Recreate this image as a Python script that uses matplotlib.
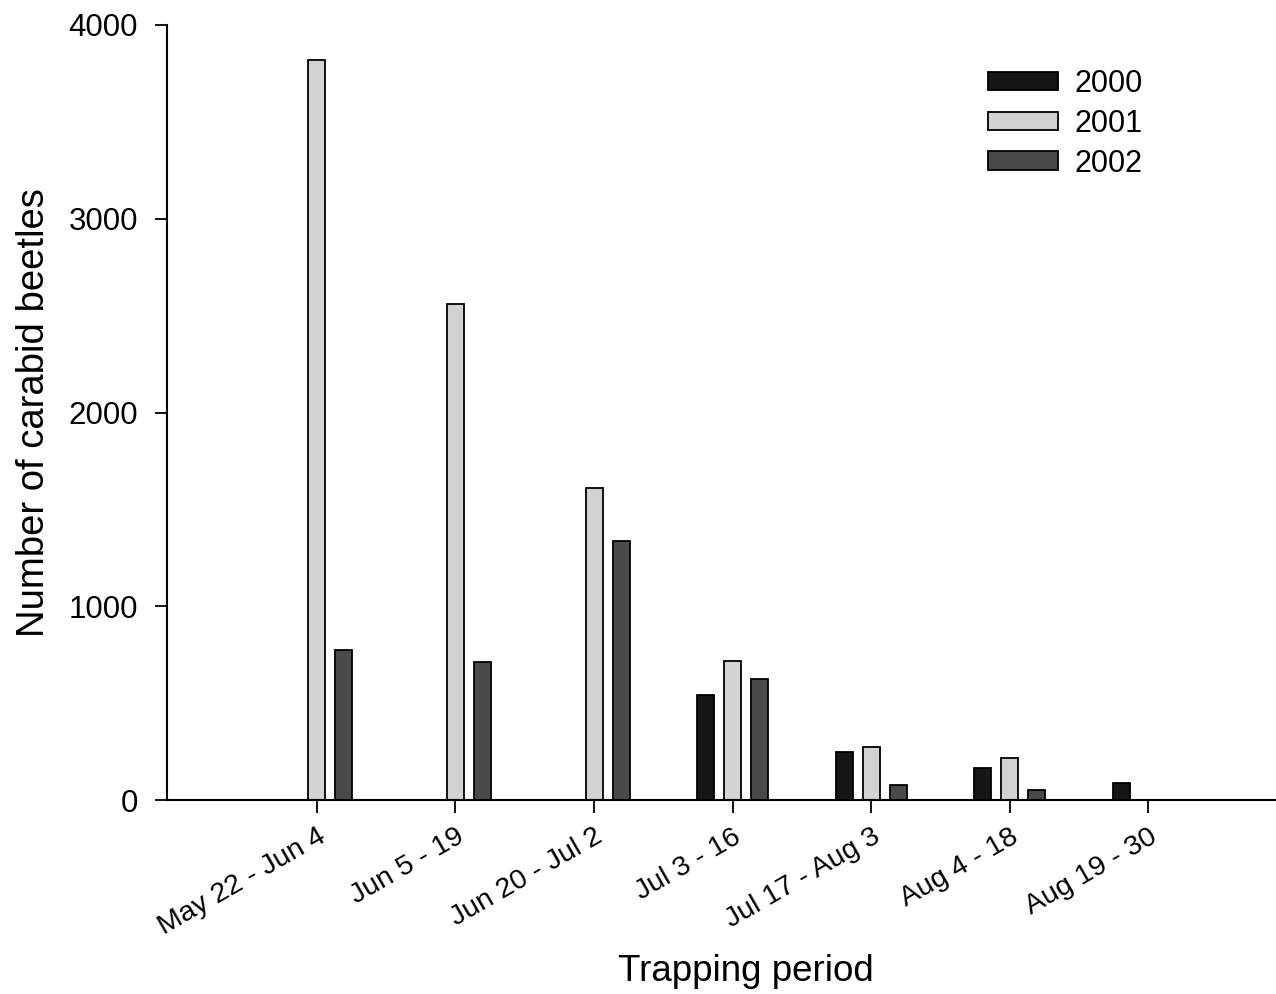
import numpy as np
import matplotlib
matplotlib.use('Agg')
import matplotlib.pyplot as plt

plt.rcParams['font.family'] = ['Liberation Sans', 'DejaVu Sans']

periods = ['May 22 - Jun 4', 'Jun 5 - 19', 'Jun 20 - Jul 2', 'Jul 3 - 16',
           'Jul 17 - Aug 3', 'Aug 4 - 18', 'Aug 19 - 30']
years = ['2000', '2001', '2002']
counts_2000 = [0, 0, 0, 541, 250, 165, 88]
counts_2001 = [3820, 2562, 1613, 716, 273, 215, 0]
counts_2002 = [773, 711, 1335, 624, 79, 52, 0]

COLORS = ['#161616', '#d2d2d2', '#4a4a4a']
BAR_W = 0.123
OFFSET = 0.195

fig = plt.figure(figsize=(12.76, 9.94), dpi=100)
ax = fig.add_axes([0.131, 0.195, 0.869, 0.78])

x = np.arange(len(periods))
for k, (yr, vals, col) in enumerate(zip(years, [counts_2000, counts_2001, counts_2002], COLORS)):
    ax.bar(x + (k - 1) * OFFSET, vals, width=BAR_W, color=col,
           edgecolor='black', linewidth=1.3, label=yr)

ax.set_xlim(-1.08, 6.92)
ax.set_ylim(0, 4000)
ax.set_yticks([0, 1000, 2000, 3000, 4000])
ax.set_xticks(x)
ax.set_xticklabels(periods, rotation=30, ha='right', rotation_mode='anchor', fontsize=20.5)
ax.tick_params(axis='y', labelsize=22.5, length=9, width=1.3, direction='out', pad=12)
ax.tick_params(axis='x', length=9, width=1.3, direction='out', pad=8)

for s in ['top', 'right']:
    ax.spines[s].set_visible(False)
for s in ['left', 'bottom']:
    ax.spines[s].set_linewidth(1.5)

ax.set_ylabel('Number of carabid beetles', fontsize=27.5, labelpad=12)
ax.set_xlabel('Trapping period', fontsize=26.5)
ax.xaxis.set_label_coords(0.522, -0.198)

leg = ax.legend(loc='upper left', bbox_to_anchor=(0.762, 0.946),
                bbox_transform=fig.transFigure, frameon=False, fontsize=22,
                handlelength=2.3, handleheight=0.55, labelspacing=0.32,
                handletextpad=0.55, borderpad=0)

fig.savefig('out.png', dpi=100, facecolor='white')
